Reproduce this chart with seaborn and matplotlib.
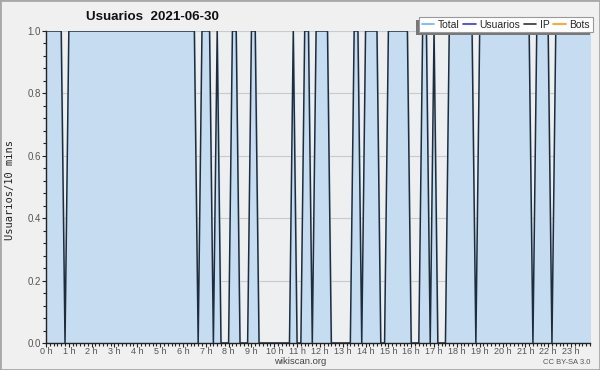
import numpy as np
import pandas as pd
import seaborn as sns
import matplotlib.pyplot as plt
from matplotlib.lines import Line2D
from matplotlib.patches import Rectangle
from matplotlib.ticker import MultipleLocator
from matplotlib.transforms import IdentityTransform

# Usuarios por intervalo de 10 minutos (6 intervalos por hora)
usuarios = [
    1, 1, 1, 1, 1, 0,  # 0 h
    1, 1, 1, 1, 1, 1,  # 1 h
    1, 1, 1, 1, 1, 1,  # 2 h
    1, 1, 1, 1, 1, 1,  # 3 h
    1, 1, 1, 1, 1, 1,  # 4 h
    1, 1, 1, 1, 1, 1,  # 5 h
    1, 1, 1, 1, 0, 1,  # 6 h
    1, 1, 0, 1, 0, 0,  # 7 h
    0, 1, 1, 0, 0, 0,  # 8 h
    1, 1, 0, 0, 0, 0,  # 9 h
    0, 0, 0, 0, 0, 1,  # 10 h
    0, 0, 1, 1, 0, 1,  # 11 h
    1, 1, 1, 0, 0, 0,  # 12 h
    0, 0, 0, 1, 1, 0,  # 13 h
    1, 1, 1, 1, 0, 0,  # 14 h
    1, 1, 1, 1, 1, 1,  # 15 h
    0, 0, 0, 1, 1, 0,  # 16 h
    1, 0, 0, 0, 1, 1,  # 17 h
    1, 1, 1, 1, 1, 0,  # 18 h
    1, 1, 1, 1, 1, 1,  # 19 h
    1, 1, 1, 1, 1, 1,  # 20 h
    1, 1, 0, 1, 1, 1,  # 21 h
    1, 0, 1, 1, 1, 1,  # 22 h
    1, 1, 1, 1, 1, 1,  # 23 h
]
horas = [f"{h} h" for h in range(24)]
series = ["Total", "Usuarios", "IP", "Bots"]
colores_series = ["#66b3ff", "#3333ff", "#333333", "#ff9900"]
titulo = "Usuarios  2021-06-30"

df = pd.DataFrame({"intervalo": np.arange(len(usuarios)), "usuarios": usuarios})

sns.set_style("white")
plt.rcParams["font.family"] = ["Liberation Sans", "DejaVu Sans"]

fig = plt.figure(figsize=(6, 3.7), dpi=100, facecolor="#f0f0f0")
fig.patches.append(Rectangle((0, 0), 1, 1, transform=fig.transFigure, fill=False,
                             edgecolor="#a8a8a8", linewidth=2))
ax = fig.add_axes([46 / 600, 27 / 370, 544 / 600, 312 / 370])
ax.set_facecolor("#eeeff1")

ax.fill_between(df["intervalo"], df["usuarios"], color="#c6dcf0", zorder=1)
sns.lineplot(data=df, x="intervalo", y="usuarios", ax=ax, color="#1e2d3d",
             linewidth=1.1, legend=False, zorder=3)

ax.set_xlim(0, len(usuarios) - 1)
ax.set_ylim(0, 1)
ax.set_xticks(np.arange(0, 144, 6))
ax.set_xticklabels(horas)
ax.xaxis.set_minor_locator(MultipleLocator(1))
ax.set_yticks(np.arange(0, 1.01, 0.2))
ax.set_yticklabels([f"{v:.1f}" for v in np.arange(0, 1.01, 0.2)])
ax.yaxis.set_minor_locator(MultipleLocator(0.04))
ax.tick_params(which="both", direction="out", colors="#222", labelcolor="#555",
               labelsize=7, width=0.8, bottom=True, left=True)
ax.tick_params(which="major", length=3, pad=0.5)
ax.tick_params(which="minor", length=2.5)
ax.tick_params(axis="x", which="major", labelsize=6.5, pad=0)
ax.grid(axis="y", color="#c8cacc", linewidth=0.8, zorder=0)
ax.set_axisbelow(True)
ax.set_xlabel("")
ax.set_ylabel("")
for lado in ["top", "right"]:
    ax.spines[lado].set_visible(False)
for lado in ["left", "bottom"]:
    ax.spines[lado].set_color("#222")
    ax.spines[lado].set_linewidth(1)

handles = [Line2D([], [], color=c, linewidth=1.2) for c in colores_series]
leg = ax.legend(handles, series, loc="upper right", bbox_to_anchor=(0.988, 0.954),
                bbox_transform=fig.transFigure, ncol=4, fontsize=7.5, frameon=True,
                fancybox=False, edgecolor="#999999", framealpha=1,
                handlelength=1.2, handletextpad=0.35, columnspacing=0.35,
                borderpad=0.25, borderaxespad=0)
leg.get_frame().set_linewidth(0.8)
leg.set_zorder(10)

# sombra de la leyenda (desplazada a la izquierda y abajo)
fig.canvas.draw()
bb = leg.get_window_extent()
sombra = Rectangle((bb.x0 - 3, bb.y0 - 3), bb.width, bb.height,
                   transform=IdentityTransform(), facecolor="#777777",
                   edgecolor="none", clip_on=False, zorder=9)
ax.add_artist(sombra)

fig.text(152 / 600, 1 - 17 / 370, titulo, ha="center", va="center",
         fontsize=9.6, fontweight="bold", color="#111")
fig.text(10 / 600, 1 - 190 / 370, "Usuarios/10 mins", rotation=90, ha="center",
         va="center", fontsize=7.5, family="DejaVu Sans Mono", color="#222")
fig.text(300 / 600, 1 - 362 / 370, "wikiscan.org", ha="center", va="center",
         fontsize=6.8, color="#444")
fig.text(590 / 600, 1 - 362 / 370, "CC BY-SA 3.0", ha="right", va="center",
         fontsize=5.5, color="#555")

fig.savefig("out.png", dpi=100, facecolor=fig.get_facecolor())
